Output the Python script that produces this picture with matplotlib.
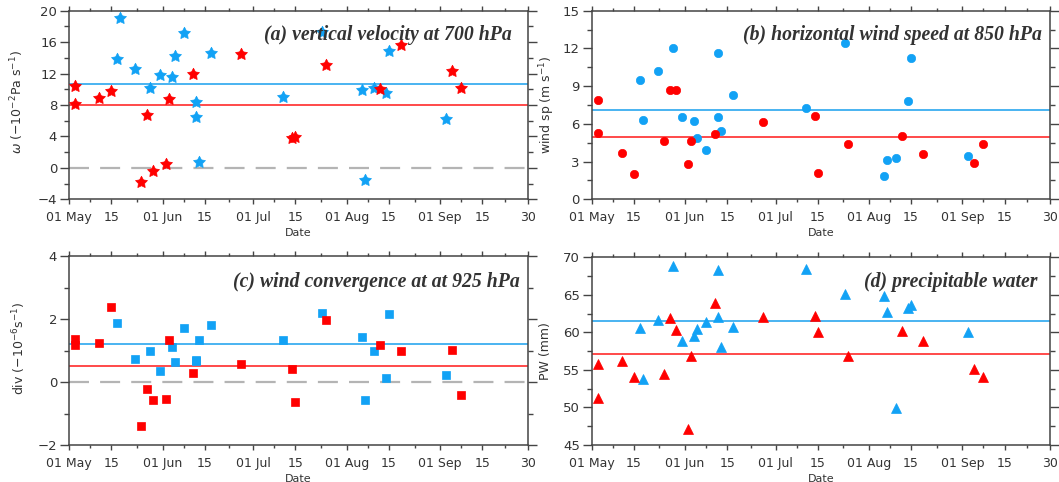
import numpy as np
import pandas as pd
import matplotlib
matplotlib.use("Agg")
import matplotlib.pyplot as plt
import matplotlib.dates as mdates
from matplotlib.path import Path

# ---------------- data ----------------
YEAR = 2013
red_dates = ['05-03', '05-03', '05-11', '05-15', '05-25', '05-27', '05-29', '06-02', '06-03',
             '06-11', '06-27', '07-14', '07-15', '07-25', '08-12', '08-19', '09-05', '09-08']
blue_dates = ['05-17', '05-18', '05-23', '05-28', '05-31', '06-04', '06-05', '06-08', '06-12',
              '06-12', '06-13', '06-17', '07-11', '07-24', '08-06', '08-07', '08-10', '08-14',
              '08-15', '09-03']

# (a) vertical velocity at 700 hPa
omega_red = [10.4, 8.07, 8.9, 9.8, -1.82, 6.7, -0.38, 0.51, 8.7, 11.96, 14.5, 3.8, 3.95,
             13.1, 10.0, 15.6, 12.3, 10.2]
omega_blue = [13.8, 19.05, 12.55, 10.1, 11.85, 11.5, 14.2, 17.1, 8.4, 6.45, 0.8, 14.6, 9.0,
              17.3, 9.85, -1.6, 10.1, 9.55, 14.9, 6.25]
omega_mean = {'red': 8.0, 'blue': 10.7}

# (b) horizontal wind speed at 850 hPa
wsp_red = [7.9, 5.3, 3.7, 2.0, 4.6, 8.66, 8.7, 2.83, 4.66, 5.19, 6.17, 6.62, 2.1, 4.4,
           5.06, 3.6, 2.89, 4.37]
wsp_blue = [9.5, 6.28, 10.17, 12.0, 6.52, 6.2, 4.9, 3.9, 11.65, 6.54, 5.43, 8.27, 7.27,
            12.45, 1.85, 3.12, 3.3, 7.79, 11.2, 3.44]
wsp_mean = {'red': 4.95, 'blue': 7.12}

# (c) wind convergence at 925 hPa
div_red = [1.36, 1.18, 1.23, 2.37, -1.40, -0.21, -0.57, -0.53, 1.34, 0.28, 0.58, 0.40,
           -0.62, 1.96, 1.17, 0.97, 1.02, -0.40]
div_blue = [1.86, np.nan, 0.74, 0.98, 0.36, 1.12, 0.64, 1.72, 0.70, 0.66, 1.34, 1.80, 1.32,
            2.18, 1.43, -0.58, 0.98, 0.13, 2.15, 0.22]
div_mean = {'red': 0.52, 'blue': 1.22}

# (d) precipitable water
pw_red = [55.8, 51.3, 56.2, 54.0, 54.4, 61.9, 60.3, 47.1, 56.9, 63.9, 62.0, 62.2, 60.0,
          56.9, 60.2, 58.8, 55.1, 54.0]
pw_blue = [60.6, 53.8, 61.6, 68.9, 58.8, 59.5, 60.5, 61.4, 68.3, 62.0, 58.1, 60.7, 68.4,
           65.1, 64.8, 62.7, 49.9, 63.3, 63.6, 60.0]
pw_mean = {'red': 57.1, 'blue': 61.47}

xtick_dates = ['05-01', '05-15', '06-01', '06-15', '07-01', '07-15', '08-01', '08-15',
               '09-01', '09-15', '09-30']
xtick_labels = ['01 May', '15', '01 Jun', '15', '01 Jul', '15', '01 Aug', '15', '01 Sep',
                '15', '30']

# ---------------- style ----------------
RED = '#ff0000'
BLUE = '#12a2f5'
RED_LINE = '#ff3b3b'
BLUE_LINE = '#3aaef0'
TXT = '#333333'
FRAME = '#444444'


def to_dates(lst):
    return pd.to_datetime([f'{YEAR}-{s}' for s in lst])


rd = to_dates(red_dates)
bd = to_dates(blue_dates)
xt = to_dates(xtick_dates)
xminor = xt[:-1] + (xt[1:] - xt[:-1]) / 2


def star_marker(n=5, inner=0.52):
    ang = np.pi / 2 + np.arange(2 * n) * np.pi / n
    r = np.where(np.arange(2 * n) % 2 == 0, 1.0, inner)
    verts = np.column_stack([r * np.cos(ang), r * np.sin(ang)])
    verts = np.vstack([verts, verts[:1]])
    codes = [Path.MOVETO] + [Path.LINETO] * (2 * n - 1) + [Path.CLOSEPOLY]
    return Path(verts, codes)


STAR = star_marker()

plt.rcParams['font.family'] = ['DejaVu Sans']
plt.rcParams['mathtext.fontset'] = 'dejavusans'

W, H = 1059, 482
fig = plt.figure(figsize=(W / 100, H / 100), dpi=100)


def px_axes(x0, x1, y0, y1):
    return fig.add_axes([x0 / W, 1 - y1 / H, (x1 - x0) / W, (y1 - y0) / H])


panels = [
    dict(box=(69, 527.7, 10.7, 199.3), red=omega_red, blue=omega_blue, mean=omega_mean,
         ylim=(-4, 20), major=4, minor=2, marker=STAR, ms=9, zero=True,
         title='(a) vertical velocity at 700 hPa', tx=0.966, ty=0.87,
         ylabel=r'$\omega$ $(-10^{-2}$Pa s$^{-1})$', ylx=17.5, yly=102),
    dict(box=(591.7, 1049.7, 10.7, 199.3), red=wsp_red, blue=wsp_blue, mean=wsp_mean,
         ylim=(0, 15), major=3, minor=1.5, marker='o', ms=6, zero=False,
         title='(b) horizontal wind speed at 850 hPa', tx=0.982, ty=0.87,
         ylabel=r'wind sp (m s$^{-1}$)', ylx=547.5, yly=105),
    dict(box=(69, 527.7, 256, 445), red=div_red, blue=div_blue, mean=div_mean,
         ylim=(-2, 4), major=2, minor=1, marker='s', ms=5.4, zero=True,
         title='(c) wind convergence at at 925 hPa', tx=0.982, ty=0.86,
         ylabel=r'div $(-10^{-6}$s$^{-1})$', ylx=19, yly=348),
    dict(box=(591.7, 1049.7, 257.3, 445), red=pw_red, blue=pw_blue, mean=pw_mean,
         ylim=(45, 70), major=5, minor=2.5, marker='^', ms=7, zero=False,
         title='(d) precipitable water', tx=0.972, ty=0.87,
         ylabel='PW (mm)', ylx=546, yly=351),
]

for p in panels:
    ax = px_axes(*p['box'])
    ax.set_xlim(pd.Timestamp(f'{YEAR}-05-01'), pd.Timestamp(f'{YEAR}-09-30'))
    ax.set_ylim(*p['ylim'])

    if p['zero']:
        ax.axhline(0, color='#b4b4b4', lw=1.6, dashes=(9, 5), zorder=1)
    ax.axhline(p['mean']['blue'], color=BLUE_LINE, lw=1.3, zorder=2)
    ax.axhline(p['mean']['red'], color=RED_LINE, lw=1.3, zorder=2)

    ax.plot(bd, p['blue'], linestyle='none', marker=p['marker'], ms=p['ms'],
            color=BLUE, mec=BLUE, mew=0.5, zorder=3)
    ax.plot(rd, p['red'], linestyle='none', marker=p['marker'], ms=p['ms'],
            color=RED, mec=RED, mew=0.5, zorder=4)

    ax.set_xticks(xt)
    ax.set_xticklabels(xtick_labels)
    ax.set_xticks(xminor, minor=True)
    lo, hi = p['ylim']
    ax.set_yticks(np.arange(lo, hi + 1e-9, p['major']))
    ax.set_yticks(np.arange(lo, hi + 1e-9, p['minor']), minor=True)
    ax.yaxis.set_major_formatter(matplotlib.ticker.FuncFormatter(
        lambda v, _: f'{v:g}'.replace('-', '\u2212')))

    for sp in ax.spines.values():
        sp.set_color(FRAME)
        sp.set_linewidth(1.1)
    ax.tick_params(axis='x', which='major', direction='out', length=3.5, width=1,
                   color=FRAME, top=True, labelsize=9, labelcolor=TXT, pad=5)
    ax.tick_params(axis='x', which='minor', direction='out', length=2.5, width=1,
                   color=FRAME, top=True)
    ax.tick_params(axis='y', which='major', direction='out', length=6.5, width=1,
                   color=FRAME, right=True, labelsize=9.5, labelcolor=TXT, pad=2)
    ax.tick_params(axis='y', which='minor', direction='out', length=3.5, width=1,
                   color=FRAME, right=True)

    ax.set_xlabel('Date', fontsize=8, color=TXT, labelpad=3)
    fig.text(p['ylx'] / W, 1 - p['yly'] / H, p['ylabel'], rotation=90, ha='center',
             va='center', fontsize=9, color=TXT)

    ax.text(p['tx'], p['ty'], p['title'], transform=ax.transAxes, ha='right', va='center',
            fontsize=14.2, fontfamily='Liberation Serif', fontweight='bold', fontstyle='italic',
            color=TXT, zorder=5)

fig.savefig('out.png', dpi=100)
